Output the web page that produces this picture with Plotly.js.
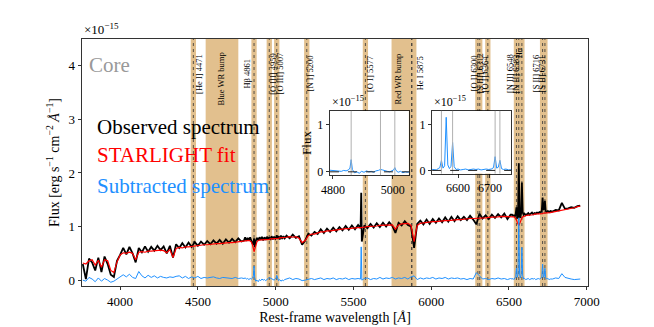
<!DOCTYPE html>
<html>
<head>
<meta charset="utf-8">
<script src="https://cdn.plot.ly/plotly-3.0.1.min.js"></script>
<style>html,body{margin:0;padding:0;background:#fff}</style>
</head>
<body>
<div id="chart" style="width:654px;height:327px"></div>
<script>
// rest-frame wavelength grid [A], finer around the two inset windows
const wave = [
  3760,3780,3800,3820,3840,3860,3880,3900,3920,3940,3960,3980,4000,4020,4040,4060,4080,4100,4120,4140,4160,4180,4200,4220,4240,4260,4280,4300,4320,4340,4360,4380,4400,4420,4440,4460,4480,4500,4520,4540,4560,4580,4600,4620,4640,4660,4680,4700,4720,4740,4760,4780,
  4796,4804,4812,4820,4828,4836,4844,4852,4857,4861,4865,4872,4880,4888,4896,4904,4912,4920,4928,4936,4944,4952,4959,4966,4974,4982,4990,4998,5003,5007,5011,5018,5026,5034,5042,5050,5058,
  5070,5090,5110,5130,5150,5170,5190,5210,5230,5250,5270,5290,5310,5330,5350,5370,5390,5410,5430,5450,5470,5490,5510,5530,5546,5550,5554,5570,5590,5610,5630,5650,5670,5690,5710,5730,5750,5770,5790,5810,5830,5850,5870,5890,5910,5930,5950,5970,5990,6010,6030,6050,6070,6090,6110,6130,6150,6170,6190,6210,6230,6250,6270,6290,6310,6330,6350,6370,6390,6410,6430,6450,6470,6490,6510,
  6520,6526,6532,6538,6543,6548,6553,6558,6563,6568,6573,6578,6583,6588,6594,6600,6608,6616,6624,6632,6640,6648,6656,6664,6672,6680,6688,6696,6704,6711,6716,6721,6726,6731,6736,6742,6750,6758,6766,
  6780,6800,6820,6840,6860,6880,6900,6920,6940,6958
];

// fluxes in units of 1e-15 erg/s/cm2/A
const observed = [
  0.30,0.02,0.40,0.33,0.18,0.42,0.15,0.44,0.30,0.10,0.06,0.36,0.47,0.60,0.48,0.62,0.50,0.33,0.60,0.52,0.63,0.53,0.62,0.55,0.64,0.56,0.63,0.50,0.64,0.42,0.67,0.60,0.69,0.61,0.70,0.62,0.71,0.64,0.72,0.66,0.73,0.67,0.74,0.68,0.75,0.68,0.76,0.70,0.77,0.71,0.78,0.72,
  0.74,0.80,0.73,0.79,0.74,0.80,0.73,0.70,0.66,0.78,0.62,0.73,0.79,0.74,0.80,0.75,0.81,0.74,0.80,0.75,0.81,0.76,0.80,0.75,0.82,0.76,0.81,0.77,0.79,0.84,0.77,0.82,0.76,0.83,0.77,0.82,0.78,
  0.83,0.78,0.85,0.79,0.82,0.66,0.74,0.87,0.83,0.90,0.86,0.95,0.88,0.96,0.90,0.98,0.91,0.99,0.93,1.01,0.94,1.02,0.95,1.03,0.97,1.63,0.72,1.02,0.97,1.05,0.98,1.06,0.99,1.07,1.00,1.08,1.01,0.88,1.07,1.02,1.10,1.03,1.00,0.60,1.05,1.11,1.04,1.13,1.05,1.14,1.07,1.15,1.08,1.17,1.09,1.18,1.10,1.19,1.12,1.18,1.12,1.20,1.13,1.04,1.24,1.15,1.21,1.14,1.22,1.16,1.23,1.17,1.24,1.14,1.22,
  1.22,1.20,1.21,1.19,1.23,1.36,1.15,1.18,2.18,1.20,1.16,1.25,1.82,1.27,1.22,1.24,1.21,1.23,1.25,1.22,1.24,1.26,1.23,1.25,1.24,1.26,1.25,1.27,1.26,1.30,1.54,1.31,1.33,1.48,1.29,1.27,1.29,1.27,1.29,
  1.28,1.31,1.30,1.44,1.33,1.34,1.36,1.35,1.38,1.39
];

const starlight = [
  0.32,0.30,0.36,0.38,0.28,0.37,0.24,0.38,0.36,0.18,0.14,0.34,0.47,0.51,0.50,0.52,0.50,0.38,0.52,0.53,0.52,0.54,0.54,0.55,0.55,0.56,0.55,0.51,0.57,0.42,0.59,0.61,0.60,0.62,0.62,0.63,0.63,0.64,0.65,0.66,0.66,0.67,0.67,0.68,0.68,0.69,0.69,0.70,0.70,0.71,0.71,0.72,
  0.73,0.74,0.74,0.74,0.74,0.73,0.71,0.65,0.57,0.53,0.57,0.66,0.72,0.74,0.75,0.75,0.75,0.75,0.76,0.76,0.76,0.76,0.76,0.77,0.77,0.77,0.77,0.78,0.78,0.78,0.78,0.78,0.79,0.79,0.79,0.79,0.80,
  0.80,0.81,0.80,0.81,0.78,0.70,0.74,0.83,0.86,0.86,0.88,0.90,0.90,0.92,0.92,0.93,0.93,0.94,0.95,0.96,0.96,0.97,0.97,0.98,0.98,0.98,0.98,0.99,1.00,1.00,1.01,1.01,1.02,1.02,1.03,1.03,1.03,0.95,1.03,1.05,1.05,1.06,1.02,0.72,1.02,1.06,1.07,1.08,1.08,1.09,1.09,1.10,1.10,1.11,1.11,1.12,1.12,1.13,1.13,1.14,1.14,1.15,1.15,1.15,1.16,1.16,1.16,1.17,1.17,1.18,1.18,1.19,1.19,1.18,1.19,
  1.19,1.19,1.18,1.17,1.15,1.12,1.08,1.04,1.02,1.05,1.10,1.14,1.16,1.18,1.19,1.20,1.20,1.21,1.21,1.21,1.22,1.22,1.22,1.23,1.23,1.23,1.24,1.24,1.24,1.24,1.24,1.25,1.25,1.25,1.25,1.25,1.26,1.26,1.26,
  1.27,1.28,1.29,1.30,1.31,1.32,1.34,1.35,1.37,1.38
];

const subtracted = [
  0.00,-0.02,0.05,0.02,-0.03,0.04,-0.02,0.03,0.00,-0.04,-0.02,0.02,0.07,0.10,0.06,0.11,0.05,0.03,0.16,0.08,0.04,0.09,0.05,0.08,0.04,0.07,0.05,0.04,0.06,0.05,0.07,0.08,0.04,0.07,0.03,0.06,0.04,0.07,0.03,0.05,0.04,0.05,0.06,0.04,0.03,0.05,0.04,0.04,0.03,0.05,0.03,0.04,
  0.03,0.04,0.02,0.03,0.01,0.03,0.02,0.04,0.08,0.26,0.05,-0.02,0.00,-0.03,0.01,-0.01,0.02,0.00,0.01,-0.01,0.02,0.03,0.05,0.04,0.02,0.01,0.00,0.02,0.04,0.09,0.03,-0.01,0.01,-0.02,0.00,-0.01,0.01,
  0.02,0.04,0.01,0.03,0.02,-0.01,0.00,0.02,0.03,0.01,0.03,0.04,0.01,0.03,0.02,0.04,0.01,0.03,0.02,0.04,0.01,0.03,0.02,0.03,0.02,0.62,0.00,0.03,0.04,0.01,0.03,0.02,0.05,0.02,0.04,0.03,0.05,0.02,0.04,0.03,0.05,0.02,0.06,0.08,0.01,0.04,0.02,0.04,0.03,0.05,0.02,0.04,0.03,0.05,0.02,0.04,0.03,0.04,0.02,0.03,0.01,0.03,0.02,0.14,0.08,0.02,0.03,0.01,0.03,0.02,0.04,0.02,0.03,0.01,0.03,
  0.02,0.03,0.01,0.04,0.06,0.22,0.05,0.10,1.16,0.12,0.04,0.09,0.61,0.08,0.02,0.03,0.01,0.02,0.03,0.01,0.02,0.03,0.02,0.03,0.01,0.02,0.03,0.02,0.03,0.06,0.30,0.05,0.07,0.22,0.04,0.02,0.03,0.01,0.02,
  0.02,0.04,0.03,0.12,0.05,0.03,0.02,0.01,0.02,0.02
];

// emission lines marked on the main panel
const lineNames = ['[He I] 4471','H\u03b2 4861','[O III] 4959','[O III] 5007','[N I] 5200','[O I] 5577','He I 5875','[O I] 6300','[S III] 6312','[O I] 6364','[N II] 6548','H\u03b1','[N II] 6583','[S II] 6716','[S II] 6731'];
const lineWaves = [4471,4861,4959,5007,5200,5577,5875,6300,6312,6364,6548,6563,6583,6716,6731];
const labelShift = [5,-7,3,3,3,4,8,-4,0,-3,-7,0,-6,-7,-3]; // px, to keep labels apart
const labelY = [0.86,0.86,0.86,0.86,0.86,0.86,0.86,0.86,0.86,0.86,0.86,0.945,0.86,0.86,0.86];

const bumpNames = ['Blue WR bump','Red WR bump'];
const bumpFrom = [4550,5745];
const bumpTo = [4760,5905];

const inset1Lines = [4861,4959,5007];
const inset2Lines = [6548,6583,6716,6731];

const FONT = 'Liberation Serif, DejaVu Serif, serif';
const TAN = 'rgb(226,192,142)';
const HALF = 17; // half width of the shaded window around each line

const shapes = [];
const annotations = [];

bumpNames.forEach((name, i) => {
    shapes.push({type:'rect', xref:'x', yref:'paper', x0:bumpFrom[i], x1:bumpTo[i], y0:0, y1:1,
        fillcolor:TAN, line:{width:0}, layer:'below'});
    annotations.push({text:name, xref:'x', yref:'paper', x:(bumpFrom[i]+bumpTo[i])/2, y:0.84,
        xanchor:'center', yanchor:'middle', xshift: i === 0 ? -1 : -6, textangle:-90, showarrow:false,
        font:{size:8.5, family:FONT, color:'#000'}});
});

lineWaves.forEach((w, i) => {
    shapes.push({type:'rect', xref:'x', yref:'paper', x0:w-HALF, x1:w+HALF, y0:0, y1:1,
        fillcolor:TAN, line:{width:0}, layer:'below'});
    annotations.push({text:lineNames[i], xref:'x', yref:'paper', x:w, y:labelY[i], xshift:labelShift[i],
        xanchor:'center', yanchor:'middle', textangle:-90, showarrow:false, font:{size:8.5, family:FONT, color:'#000'}});
});
lineWaves.concat([5875]).forEach(w => {
    shapes.push({type:'line', xref:'x', yref:'paper', x0:w, x1:w, y0:0, y1:1,
        line:{color:'#333', width:0.8, dash:'dot'}, layer:'below'});
});

// inset reference lines
inset1Lines.forEach(w => shapes.push({type:'line', xref:'x2', yref:'y2 domain', x0:w, x1:w, y0:0, y1:1,
    line:{color:'#b0b0b0', width:1}, layer:'above'}));
inset2Lines.forEach(w => shapes.push({type:'line', xref:'x3', yref:'y3 domain', x0:w, x1:w, y0:0, y1:1,
    line:{color:'#b0b0b0', width:1}, layer:'above'}));
shapes.push({type:'line', xref:'x2 domain', yref:'y2', x0:0, x1:1, y0:0, y1:0, line:{color:'#222', width:1, dash:'dash'}, layer:'above'});
shapes.push({type:'line', xref:'x3 domain', yref:'y3', x0:0, x1:1, y0:0, y1:0, line:{color:'#222', width:1, dash:'dash'}, layer:'above'});

// legend-like coloured labels + panel tag
const legendText = ['Observed spectrum','STARLIGHT fit','Subtracted spectrum'];
const legendColor = ['#000000','#ff0000','#1e90ff'];
const legendY = [0.644,0.530,0.405];
legendText.forEach((t, i) => annotations.push({text:t, xref:'paper', yref:'paper', x:0.026, y:legendY[i],
    xanchor:'left', yanchor:'middle', showarrow:false, font:{size:21, family:FONT, color:legendColor[i]}}));
annotations.push({text:'Core', xref:'paper', yref:'paper', x:0.01, y:0.893, xanchor:'left', yanchor:'middle',
    showarrow:false, font:{size:21, family:FONT, color:'#999'}});

// offset labels
annotations.push({text:'\u00d710<sup>\u221215</sup>', xref:'paper', yref:'paper', x:0, y:1, xanchor:'left', yanchor:'bottom', showarrow:false, font:{size:13, family:FONT}});
annotations.push({text:'\u00d710<sup>\u221215</sup>', xref:'x2 domain', yref:'y2 domain', x:0, y:1, xanchor:'left', yanchor:'bottom', showarrow:false, font:{size:12, family:FONT}});
annotations.push({text:'\u00d710<sup>\u221215</sup>', xref:'x3 domain', yref:'y3 domain', x:0, y:1, xanchor:'left', yanchor:'bottom', showarrow:false, font:{size:12, family:FONT}});

const traces = [
    {x:wave, y:observed, type:'scatter', mode:'lines', line:{color:'#000', width:1.8}, xaxis:'x', yaxis:'y'},
    {x:wave, y:starlight, type:'scatter', mode:'lines', line:{color:'#ff0000', width:1.2}, xaxis:'x', yaxis:'y'},
    {x:wave, y:subtracted, type:'scatter', mode:'lines', line:{color:'#1e90ff', width:1}, xaxis:'x', yaxis:'y'},
    {x:wave, y:subtracted, type:'scatter', mode:'lines', line:{color:'#1e90ff', width:1}, xaxis:'x2', yaxis:'y2'},
    {x:wave, y:subtracted, type:'scatter', mode:'lines', line:{color:'#1e90ff', width:1}, xaxis:'x3', yaxis:'y3'}
];

const axisStyle = {showline:true, mirror:true, linecolor:'#000', linewidth:0.8, ticks:'outside', ticklen:3.5,
    tickwidth:0.8, tickcolor:'#000', showgrid:false, zeroline:false};

const layout = {
    width:654, height:327,
    margin:{l:82, r:66, t:39, b:41},
    paper_bgcolor:'#fff', plot_bgcolor:'#fff',
    showlegend:false,
    font:{family:FONT, size:13, color:'#000'},
    xaxis:Object.assign({}, axisStyle, {domain:[0,1], range:[3755,7008], tickvals:[4000,4500,5000,5500,6000,6500,7000],
        title:{text:'Rest-frame wavelength [<i>\u00c5</i>]', font:{size:14}, standoff:4}}),
    yaxis:Object.assign({}, axisStyle, {domain:[0,1], range:[-0.11,4.5], tickvals:[0,1,2,3,4],
        title:{text:'Flux [erg s<sup>\u22121</sup> cm<sup>\u22122</sup> <i>\u00c5</i><sup>\u22121</sup>]', font:{size:14}, standoff:5}}),
    xaxis2:Object.assign({}, axisStyle, {domain:[0.490,0.646], anchor:'y2', range:[4790,5054], tickvals:[4800,5000], tickfont:{size:12}}),
    yaxis2:Object.assign({}, axisStyle, {domain:[0.449,0.709], anchor:'x2', range:[-0.07,1.3], tickvals:[0,1], tickfont:{size:12},
        title:{text:'Flux', font:{size:13}, standoff:2}}),
    xaxis3:Object.assign({}, axisStyle, {domain:[0.692,0.848], anchor:'y3', range:[6519,6766], tickvals:[6600,6700], tickfont:{size:12}}),
    yaxis3:Object.assign({}, axisStyle, {domain:[0.455,0.709], anchor:'x3', range:[-0.07,1.3], tickvals:[0,1], tickfont:{size:12}}),
    shapes:shapes,
    annotations:annotations
};

Plotly.newPlot('chart', traces, layout, {staticPlot:true});
</script>
</body>
</html>
